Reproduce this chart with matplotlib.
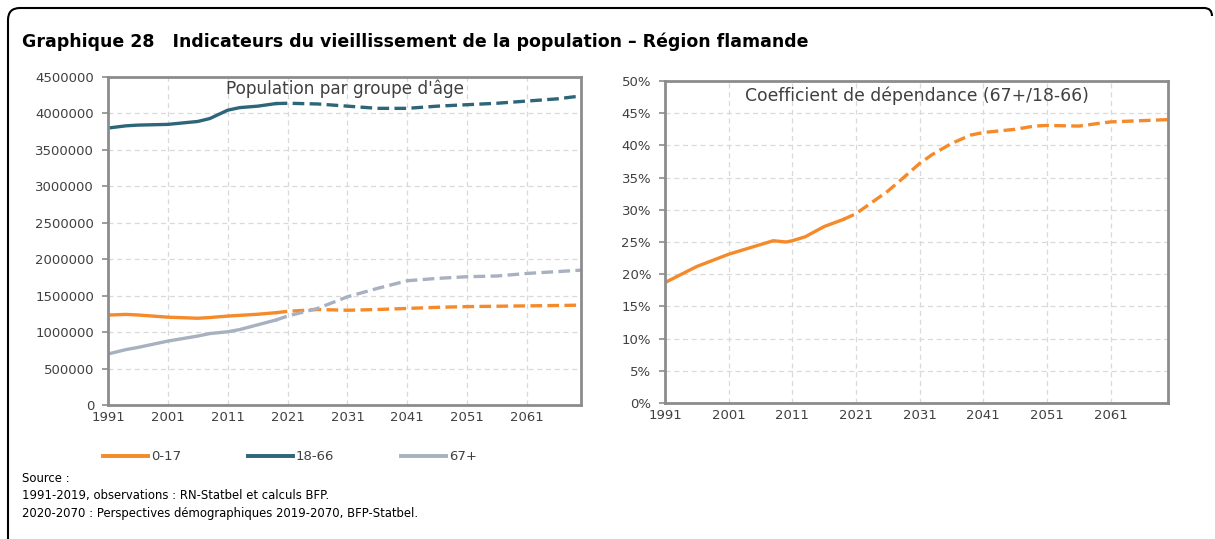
import matplotlib
matplotlib.use("Agg")
from matplotlib import pyplot as plt
from matplotlib.patches import PathPatch
from matplotlib.path import Path
from matplotlib.lines import Line2D
import numpy as np

plt.rcParams['font.family'] = ['DejaVu Sans']

# observations 1991-2019 and projections 2019-2070
obs_years = [1991, 1994, 1996, 2001, 2006, 2008, 2011, 2013, 2016, 2019]
proj_years = [2019, 2021, 2026, 2031, 2036, 2041, 2046, 2051, 2056, 2061, 2066, 2070]

age_0_17_obs = [1234000, 1243000, 1235000, 1205000, 1190000, 1200000, 1220000, 1230000, 1245000, 1266000]
age_0_17_proj = [1266000, 1285000, 1310000, 1300000, 1310000, 1325000, 1340000, 1350000, 1355000, 1360000, 1365000, 1370000]
age_18_66_obs = [3800000, 3830000, 3840000, 3850000, 3890000, 3930000, 4045000, 4080000, 4100000, 4135000]
age_18_66_proj = [4135000, 4140000, 4130000, 4100000, 4070000, 4070000, 4100000, 4120000, 4140000, 4170000, 4200000, 4240000]
age_67_obs = [700000, 760000, 790000, 877000, 946000, 980000, 1005000, 1035000, 1100000, 1165000]
age_67_proj = [1165000, 1220000, 1325000, 1485000, 1600000, 1705000, 1737000, 1760000, 1770000, 1805000, 1830000, 1850000]

dep_obs_years = [1991, 1994, 1996, 2001, 2004, 2006, 2008, 2010, 2011, 2013, 2016, 2019]
dep_obs = [18.7, 20.2, 21.2, 23.1, 24.0, 24.6, 25.2, 25.0, 25.2, 25.8, 27.4, 28.5]
dep_proj_years = [2019, 2021, 2024, 2026, 2028, 2031, 2033, 2036, 2039, 2041, 2046, 2049, 2051, 2056, 2059, 2061, 2066, 2070]
dep_proj = [28.5, 29.4, 31.5, 32.9, 34.6, 37.2, 38.6, 40.3, 41.6, 42.0, 42.5, 43.0, 43.1, 43.0, 43.4, 43.65, 43.85, 44.0]

xticks = [1991, 2001, 2011, 2021, 2031, 2041, 2051, 2061]

orange = '#F58A2A'
teal = '#2D6579'
grey = '#A7B1BF'
txt = '#404040'
spine = '#8C8C8C'
lw = 2.4
dash = (3.5, 1.6)

W, H = 1215, 539
fig = plt.figure(figsize=(12.15, 5.39), dpi=100)


def fx(px):
    return px / W


def fy(py):
    return 1 - py / H


# outer frame: left and top edges, rounded corners
r = 12
verts = [(8, 560), (8, 8 + r), (8, 8), (8 + r, 8), (1204, 8), (1212, 8), (1212, 16)]
codes = [Path.MOVETO, Path.LINETO, Path.CURVE3, Path.CURVE3, Path.LINETO, Path.CURVE3, Path.CURVE3]
frame = PathPatch(Path([(fx(x), fy(y)) for x, y in verts], codes), transform=fig.transFigure,
                  fill=False, ec='black', lw=1.5)
fig.patches.append(frame)

fig.text(fx(22), fy(42), "Graphique 28   Indicateurs du vieillissement de la population \u2013 Région flamande",
         fontsize=12.5, fontweight='bold', va='center', ha='left')


def style(ax):
    ax.set_xlim(1991, 2070)
    ax.set_xticks(xticks)
    ax.grid(True, color='#D9D9D9', linestyle=(0, (4, 3)), linewidth=0.9)
    ax.set_axisbelow(True)
    for s in ax.spines.values():
        s.set_color(spine)
        s.set_linewidth(2)
    ax.tick_params(colors=spine, labelcolor=txt, labelsize=9.5, width=1.2)
    ax.tick_params(axis='x', length=0, pad=4)
    ax.tick_params(axis='y', length=4, pad=6)


ax1 = fig.add_axes([fx(108), fy(405), fx(473), 328 / H])
style(ax1)
ax1.set_ylim(0, 4500000)
ax1.set_yticks(np.arange(0, 4500001, 500000))
ax1.set_yticklabels([str(v) for v in range(0, 4500001, 500000)])
for o, p, c in [(age_0_17_obs, age_0_17_proj, orange), (age_18_66_obs, age_18_66_proj, teal),
                (age_67_obs, age_67_proj, grey)]:
    ax1.plot(obs_years, o, color=c, lw=lw)
    ax1.plot(proj_years, p, color=c, lw=lw, dashes=dash)
ax1.text(0.5, 0.963, "Population par groupe d'âge", transform=ax1.transAxes,
         ha='center', va='center', fontsize=12.2, color=txt)

ax2 = fig.add_axes([fx(665), fy(403), fx(503), 322 / H])
style(ax2)
ax2.set_ylim(0, 50)
ax2.set_yticks(np.arange(0, 51, 5))
ax2.set_yticklabels([f"{v}%" for v in range(0, 51, 5)])
ax2.plot(dep_obs_years, dep_obs, color=orange, lw=lw)
ax2.plot(dep_proj_years, dep_proj, color=orange, lw=lw, dashes=dash)
ax2.text(0.5, 0.955, "Coefficient de dépendance (67+/18-66)", transform=ax2.transAxes,
         ha='center', va='center', fontsize=12.4, color=txt)

handles = [Line2D([], [], color=c, lw=2.8) for c in (orange, teal, grey)]
fig.legend(handles, ['0-17', '18-66', '67+'], loc='center', bbox_to_anchor=(fx(290), fy(457)),
           ncol=3, frameon=False, fontsize=9.5, handlelength=3.4, handletextpad=0.2, columnspacing=5.1,
           labelcolor=txt)

src = ["Source :", "1991-2019, observations : RN-Statbel et calculs BFP.",
       "2020-2070 : Perspectives démographiques 2019-2070, BFP-Statbel."]
for i, s in enumerate(src):
    fig.text(fx(22), fy(478 + 18 * i), s, fontsize=8.4, va='center', ha='left')

fig.savefig('out.png', dpi=100)
